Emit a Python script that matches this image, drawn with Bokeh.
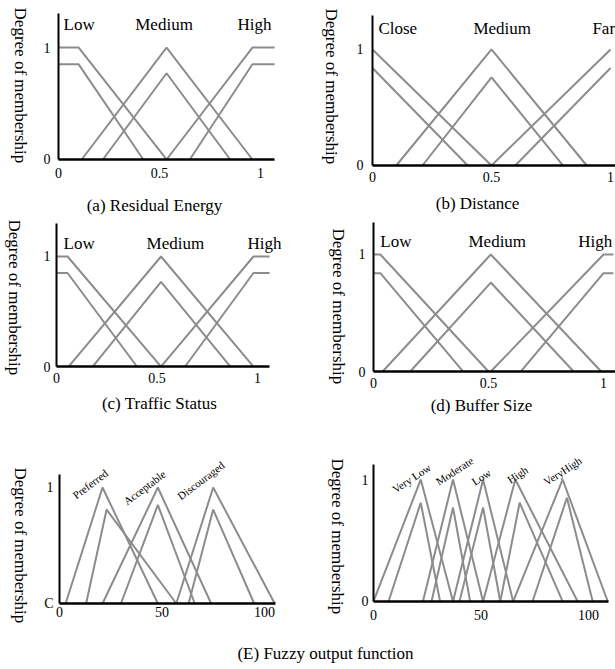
import math
from bokeh.plotting import figure
from bokeh.models import Range1d, FixedTicker
from bokeh.layouts import column, row
from bokeh.embed import file_html
from bokeh.resources import INLINE
from bokeh.core.properties import value

SERIF = "Liberation Serif"
GRAY = "#8c8c8c"

# ---------------- data ----------------
# (a) Residual Energy : Low (outer, inner), Medium (outer, inner), High (outer, inner)
a_xs = [[0, 0.10, 0.535], [0, 0.10, 0.42], [0.115, 0.535, 0.96], [0.22, 0.535, 0.85],
        [0.535, 0.96, 1.07], [0.65, 0.96, 1.07]]
a_ys = [[1, 1, 0], [0.85, 0.85, 0], [0, 1, 0], [0, 0.77, 0], [0, 1, 1], [0, 0.85, 0.85]]
a_terms = ["Low", "Medium", "High"]
a_term_x = [0.025, 0.38, 0.886]
a_term_y = [1.205, 1.205, 1.205]

# (b) Distance : Close, Medium, Far
b_xs = [[0, 0.5], [0, 0.4], [0.1, 0.5, 0.9], [0.21, 0.5, 0.8], [0.5, 1.0], [0.6, 1.0]]
b_ys = [[1, 0], [0.84, 0], [0, 1, 0], [0, 0.76, 0], [0, 1], [0, 0.84]]
b_terms = ["Close", "Medium", "Far"]
b_term_x = [0.025, 0.424, 0.924]
b_term_y = [1.18, 1.18, 1.18]

# (c) Traffic Status
c_xs = [[0, 0.055, 0.52], [0, 0.055, 0.40], [0.06, 0.52, 0.98], [0.18, 0.52, 0.865],
        [0.52, 0.98, 1.06], [0.64, 0.98, 1.06]]
c_ys = [[1, 1, 0], [0.85, 0.85, 0], [0, 1, 0], [0, 0.77, 0], [0, 1, 1], [0, 0.85, 0.85]]
c_terms = ["Low", "Medium", "High"]
c_term_x = [0.035, 0.448, 0.95]
c_term_y = [1.12, 1.12, 1.12]

# (d) Buffer Size
d_xs = [[0, 0.03, 0.5], [0, 0.03, 0.39], [0.04, 0.51, 0.99], [0.16, 0.51, 0.87],
        [0.51, 1.0, 1.043], [0.64, 1.0, 1.043]]
d_ys = [[1, 1, 0], [0.84, 0.84, 0], [0, 1, 0], [0, 0.76, 0], [0, 1, 1], [0, 0.84, 0.84]]
d_terms = ["Low", "Medium", "High"]
d_term_x = [0.03, 0.413, 0.89]
d_term_y = [1.11, 1.11, 1.11]

# (E) output, left: Preferred, Acceptable, Discouraged
e_xs = [[3, 21, 48], [13, 23, 57], [21, 48, 74], [30, 48, 66], [57, 75, 105], [63, 75, 95]]
e_ys = [[0, 1, 0], [0, 0.81, 0], [0, 1, 0], [0, 0.85, 0], [0, 1, 0], [0, 0.81, 0]]
e_terms = ["Preferred", "Acceptable", "Discouraged"]
e_term_x = [15, 41.5, 69]
e_term_y = [1.03, 1.0, 1.06]

# (E) output, right: Very Low, Moderate, Low, High, VeryHigh
f_xs = [[0, 22, 37], [7, 22, 31], [23, 37, 51], [27, 37, 45], [37, 51, 65], [40, 51, 59],
        [51, 66, 95], [59, 68, 88], [65, 88, 109], [74, 90, 102]]
f_ys = [[0, 1, 0], [0, 0.81, 0], [0, 1, 0], [0, 0.77, 0], [0, 1, 0], [0, 0.77, 0],
        [0, 1, 0], [0, 0.81, 0], [0, 1, 0], [0, 0.85, 0]]
f_terms = ["Very Low", "Moderate", "Low", "High", "VeryHigh"]
f_term_x = [17.7, 37.7, 50.2, 67, 88]
f_term_y = [1.01, 1.07, 1.02, 1.04, 1.07]

unit_ticks = [0, 0.5, 1]
unit_tick_text = ["0", "0.5", "1"]
pct_ticks = [0, 50, 100]
pct_tick_text = ["0", "50", "100"]
YLABEL = "Degree of membership"
captions_top = ["(a) Residual Energy", "(b) Distance"]
captions_mid = ["(c) Traffic Status", "(d) Buffer Size"]
caption_bottom = ["(E) Fuzzy output function"]


def caption_fig(width, height, xs, ys, texts):
    p = figure(width=width, height=height, output_backend="svg", toolbar_location=None,
               x_range=Range1d(0, width), y_range=Range1d(0, height),
               x_axis_location=None, y_axis_location=None, min_border=0)
    p.outline_line_color = None
    p.grid.visible = False
    p.text(x=xs, y=ys, text=texts, text_font=value(SERIF), text_font_size="17px",
           text_color="black", text_align="center", text_baseline="middle")
    return p


def panel(xs, ys, *, width, height, xr, yr, x_rule, y_rule, xticks, xtick_text, ytick_text,
          xstand, ystand, ylab_at):
    p = figure(width=width, height=height, output_backend="svg", toolbar_location=None,
               x_range=Range1d(*xr), y_range=Range1d(*yr), min_border=0)
    p.xgrid.visible = False
    p.ygrid.visible = False
    p.outline_line_color = None
    p.multi_line(xs=xs, ys=ys, line_color=GRAY, line_width=2)
    xa = p.xaxis[0]
    ya = p.yaxis[0]
    xa.fixed_location = 0
    ya.fixed_location = 0
    xa.ticker = FixedTicker(ticks=xticks)
    xa.major_label_overrides = dict(zip(xticks, xtick_text))
    xa.bounds = (0, x_rule)
    ya.ticker = FixedTicker(ticks=[0, 1])
    ya.major_label_overrides = {0: ytick_text[0], 1: ytick_text[1]}
    ya.bounds = (0, y_rule)
    for ax in (xa, ya):
        ax.major_tick_line_color = None
        ax.minor_tick_line_color = None
        ax.major_tick_in = 0
        ax.major_tick_out = 0
        ax.minor_tick_in = 0
        ax.minor_tick_out = 0
        ax.axis_line_color = "black"
        ax.major_label_text_font = SERIF
        ax.major_label_text_font_size = "14px"
        ax.major_label_text_color = "black"
    xa.axis_line_width = 2.5
    ya.axis_line_width = 2
    xa.major_label_standoff = xstand
    ya.major_label_standoff = ystand
    # y-axis title reading downwards, left of the axis
    p.text(x=[ylab_at[0]], y=[ylab_at[1]], text=[YLABEL], angle=-math.pi / 2,
           text_font=value(SERIF), text_font_size="17px", text_color="black",
           text_align="left", text_baseline="middle")
    return p


def terms(p, tx, ty, txt, size="17px", angle=0.0, align="left", baseline="alphabetic"):
    p.text(x=tx, y=ty, text=txt, text_font=value(SERIF), text_font_size=size,
           text_color="black", text_align=align, text_baseline=baseline, angle=angle)


# ---- row 1 ----
pa = panel(a_xs, a_ys, width=300, height=190, xr=(-0.287, 1.198), yr=(-0.277, 1.42),
           x_rule=1.07, y_rule=1.30, xticks=unit_ticks, xtick_text=unit_tick_text,
           ytick_text=["0", "1"], xstand=9, ystand=8, ylab_at=(-0.188, 1.357))
terms(pa, a_term_x, a_term_y, a_terms)
pb = panel(b_xs, b_ys, width=315, height=190, xr=(-0.3025, 1.021), yr=(-0.2155, 1.422),
           x_rule=1.021, y_rule=1.29, xticks=unit_ticks, xtick_text=unit_tick_text,
           ytick_text=["0", "1"], xstand=7, ystand=9, ylab_at=(-0.172, 1.353))
terms(pb, b_term_x, b_term_y, b_terms)
cap1 = caption_fig(615, 30, [154, 477], [15, 17], captions_top)

# ---- row 2 ----
pc = panel(c_xs, c_ys, width=300, height=172, xr=(-0.2786, 1.214), yr=(-0.236, 1.327),
           x_rule=1.06, y_rule=1.30, xticks=unit_ticks, xtick_text=unit_tick_text,
           ytick_text=["0", "1"], xstand=6, ystand=6, ylab_at=(-0.209, 1.336))
terms(pc, c_term_x, c_term_y, c_terms)
pd_ = panel(d_xs, d_ys, width=315, height=172, xr=(-0.317, 1.052), yr=(-0.179, 1.29),
            x_rule=1.052, y_rule=1.27, xticks=unit_ticks, xtick_text=unit_tick_text,
            ytick_text=["0", "1"], xstand=6, ystand=8, ylab_at=(-0.152, 1.222))
terms(pd_, d_term_x, d_term_y, d_terms)
cap2 = caption_fig(615, 58, [159, 481], [47, 45], captions_mid)

# ---- row 3 ----
pe = panel(e_xs, e_ys, width=300, height=190, xr=(-28.78, 117.6), yr=(-0.319, 1.319),
           x_rule=105.4, y_rule=1.11, xticks=pct_ticks, xtick_text=pct_tick_text,
           ytick_text=["C", "1"], xstand=4, ystand=6, ylab_at=(-19.0, 1.172))
terms(pe, e_term_x, e_term_y, e_terms, size="11px", angle=math.radians(37),
      align="center", baseline="middle")
pf = panel(f_xs, f_ys, width=315, height=190, xr=(-33.95, 112.6), yr=(-0.32, 1.238),
           x_rule=109.3, y_rule=1.12, xticks=pct_ticks, xtick_text=pct_tick_text,
           ytick_text=["0", "1"], xstand=9, ystand=5, ylab_at=(-16.7, 1.172))
terms(pf, f_term_x, f_term_y, f_terms, size="11px", angle=math.radians(33),
      align="center", baseline="middle")
cap3 = caption_fig(615, 29, [325], [16], caption_bottom)

layout = column(row(pa, pb), cap1, row(pc, pd_), cap2, row(pe, pf), cap3)
open("out.html", "w").write(file_html(layout, INLINE, title="Fuzzy membership functions"))
